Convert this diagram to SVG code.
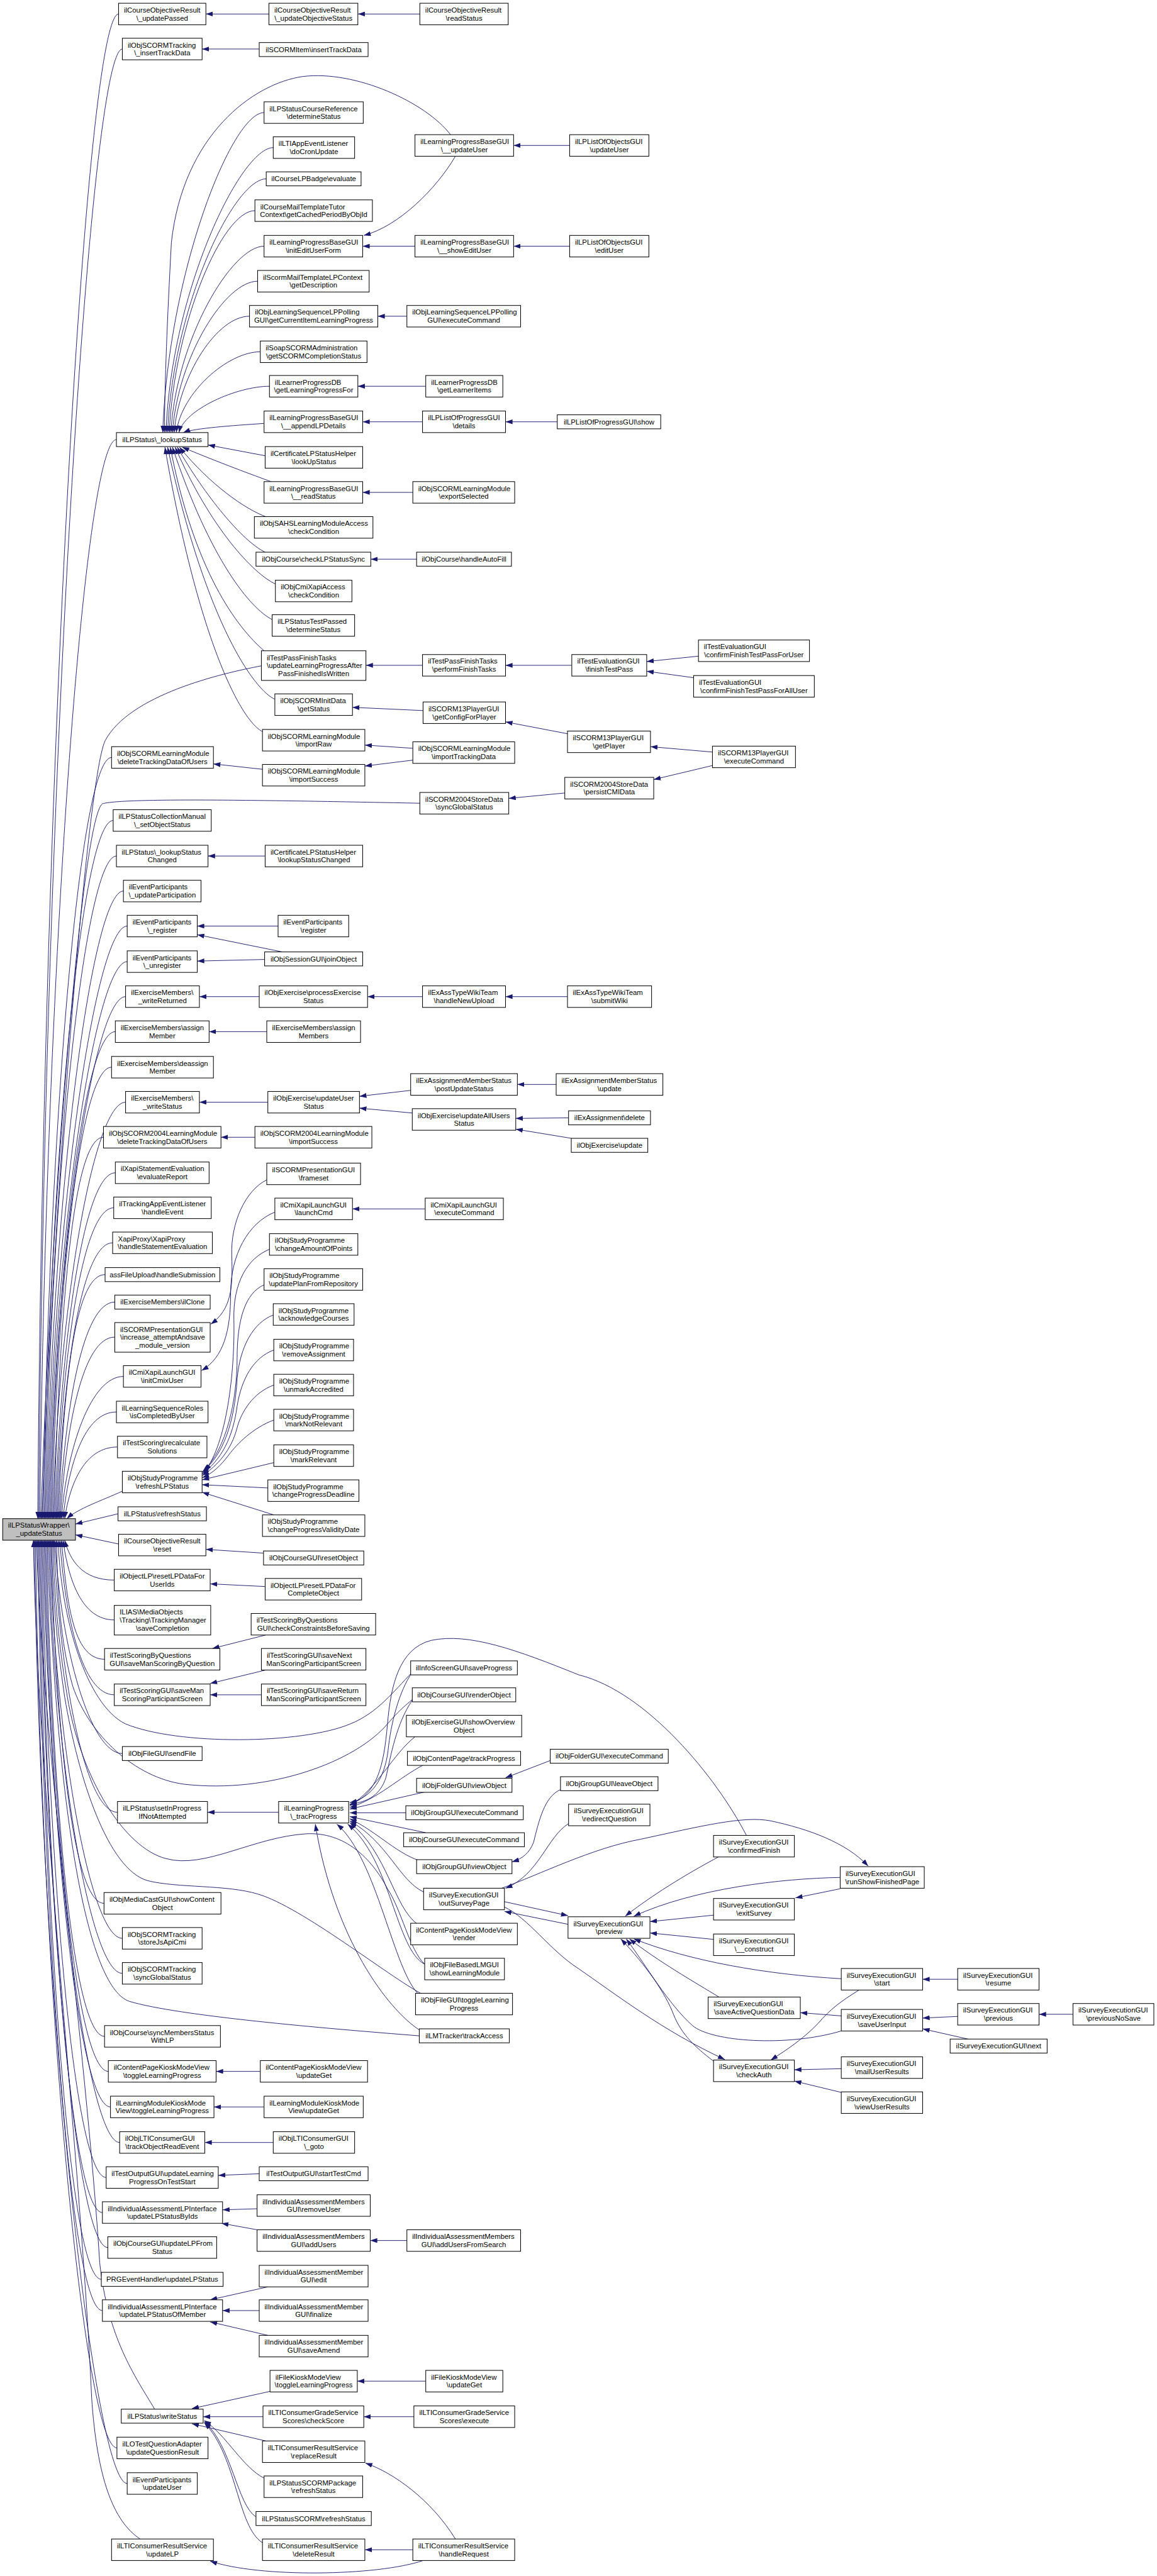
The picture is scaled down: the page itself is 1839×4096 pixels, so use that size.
<svg xmlns="http://www.w3.org/2000/svg" width="1839" height="4096" viewBox="0 0 1839 4096">
<style>
.n{fill:#fff;stroke:#000;stroke-width:1.2}
.m{fill:#bfbfbf;stroke:#000;stroke-width:1.2}
text{font-family:"Liberation Sans",Arial,Helvetica,sans-serif;font-size:13.3px;fill:#000}
.c{text-anchor:middle}
.e path{fill:none;stroke:#191970;stroke-width:1.1;marker-end:url(#a)}
</style>
<defs>
<marker id="a" markerUnits="userSpaceOnUse" markerWidth="13" markerHeight="9" refX="13" refY="4.5" orient="auto" viewBox="0 0 13 9"><path d="M0,0L13,4.5L0,9z" fill="#191970"/></marker>
</defs>
<rect width="1839" height="4096" fill="#fff"/>
<g transform="scale(0.8566)">
<g id="edges" class="e">
<path d="M220,26 C160,26 80,1422 70,2819"/>
<path d="M227,91 C167,91 82,1455 72,2819"/>
<path d="M216,816 C156,816 84,1818 74,2819"/>
<path d="M779,1491 C520,1486 230,1480 190,1492 C150,1520 92,2300 76,2819"/>
<path d="M485,1236 C410,1250 240,1290 195,1375 C160,1450 95,2300 78,2819"/>
<path d="M207,1406 C147,1406 90,2112 80,2819"/>
<path d="M210,1523 C150,1523 92,2171 82,2819"/>
<path d="M216,1589 C156,1589 94,2204 84,2819"/>
<path d="M229,1654 C169,1654 96,2236 86,2819"/>
<path d="M236,1719 C176,1719 98,2269 88,2819"/>
<path d="M236,1785 C176,1785 100,2302 90,2819"/>
<path d="M233,1850 C173,1850 102,2334 92,2819"/>
<path d="M214,1915 C154,1915 104,2367 94,2819"/>
<path d="M207,1981 C147,1981 106,2400 96,2819"/>
<path d="M233,2046 C173,2046 108,2432 98,2819"/>
<path d="M192,2111 C132,2111 110,2465 100,2819"/>
<path d="M214,2177 C154,2177 112,2498 102,2819"/>
<path d="M211,2242 C151,2242 114,2530 104,2819"/>
<path d="M209,2307 C149,2307 116,2563 106,2819"/>
<path d="M195,2366 C135,2366 118,2592 108,2819"/>
<path d="M213,2417 C153,2417 120,2618 110,2819"/>
<path d="M213,2482 C153,2482 122,2650 112,2819"/>
<path d="M229,2555 C169,2555 124,2687 114,2819"/>
<path d="M216,2621 C156,2621 127,2720 117,2819"/>
<path d="M218,2686 C158,2686 130,2752 120,2819"/>
<path d="M227,2768 C190,2785 145,2800 124,2819"/>
<path d="M219,2810 L140,2829"/>
<path d="M220,2866 L140,2849"/>
<path d="M212,2933 C152,2933 130,2896 120,2859"/>
<path d="M212,3007 C152,3007 127,2933 117,2859"/>
<path d="M194,3080 C134,3080 124,2970 114,2859"/>
<path d="M212,3146 C152,3146 121,3002 111,2859"/>
<path d="M765,3104 C730,3140 700,3180 650,3200 C560,3238 330,3240 233,3200 C160,3165 112,3000 108,2859"/>
<path d="M765,3155 C740,3175 728,3190 719,3200 C660,3270 500,3330 342,3312 C250,3300 165,3220 135,3130 C112,3050 106,2950 105,2859"/>
<path d="M227,3255 C167,3255 112,3057 102,2859"/>
<path d="M218,3364 C158,3364 110,3111 100,2859"/>
<path d="M788,3646 C760,3620 745,3545 719,3506 C690,3450 640,3400 568,3404 C470,3410 380,3470 308,3450 C230,3430 150,3300 125,3150 C108,3050 100,2950 98,2859"/>
<path d="M784,3702 C720,3668 560,3540 479,3516 C420,3498 330,3505 274,3491 C200,3470 145,3300 120,3150 C105,3050 97,2950 96,2859"/>
<path d="M193,3533 C133,3533 104,3196 94,2859"/>
<path d="M227,3598 C167,3598 102,3228 92,2859"/>
<path d="M227,3663 C167,3663 100,3261 90,2859"/>
<path d="M778,3779 C600,3765 330,3742 240,3715 C165,3690 120,3400 100,3100 C92,2980 88,2900 88,2859"/>
<path d="M194,3780 C134,3780 96,3320 86,2859"/>
<path d="M201,3845 C141,3845 94,3352 84,2859"/>
<path d="M205,3911 C145,3911 92,3385 82,2859"/>
<path d="M222,3977 C162,3977 90,3418 80,2859"/>
<path d="M197,4042 C137,4042 88,3450 78,2859"/>
<path d="M190,4107 C130,4107 86,3483 76,2859"/>
<path d="M200,4172 C140,4172 84,3516 74,2859"/>
<path d="M188,4231 C128,4231 82,3545 72,2859"/>
<path d="M190,4289 C130,4289 80,3574 70,2859"/>
<path d="M287,4472 C250,4410 200,4340 185,4200 C160,3800 75,3200 68,2859"/>
<path d="M217,4544 C157,4544 76,3701 66,2859"/>
<path d="M236,4610 C176,4610 74,3734 64,2859"/>
<path d="M260,4713 C210,4680 180,4600 170,4450 C150,4000 68,3300 62,2859"/>
<path d="M490,209 C430,209 312,506 302,803"/>
<path d="M836,250 C790,190 660,130 562,142 C470,155 340,250 318,450 C310,600 306,700 305,803"/>
<path d="M507,274 C447,274 318,538 308,803"/>
<path d="M494,332 C434,332 321,567 311,803"/>
<path d="M473,391 C413,391 324,597 314,803"/>
<path d="M490,457 C430,457 327,630 317,803"/>
<path d="M478,522 C418,522 330,662 320,803"/>
<path d="M463,587 C403,587 333,695 323,803"/>
<path d="M483,653 C423,653 337,728 327,803"/>
<path d="M500,717 C440,717 342,760 332,803"/>
<path d="M490,786 C430,790 360,795 340,803"/>
<path d="M492,846 L386,826"/>
<path d="M503,894 C470,882 410,860 338,830"/>
<path d="M493,959 C455,945 390,900 333,830"/>
<path d="M492,1025 C450,1005 380,920 329,830"/>
<path d="M511,1084 C470,1065 390,980 325,830"/>
<path d="M505,1150 C465,1130 390,1040 320,830"/>
<path d="M490,1208 C440,1165 360,1060 316,830"/>
<path d="M510,1298 C470,1280 380,1150 311,830"/>
<path d="M487,1358 C450,1340 370,1200 306,830"/>
<path d="M499,26 L382,26"/>
<path d="M779,26 L664,26"/>
<path d="M481,91 L375,91"/>
<path d="M1057,270 L953,270"/>
<path d="M1057,457 L953,457"/>
<path d="M770,457 L673,457"/>
<path d="M845,290 C810,350 740,420 675,437"/>
<path d="M755,587 L701,587"/>
<path d="M790,717 L664,717"/>
<path d="M784,783 L673,783"/>
<path d="M1034,783 L938,783"/>
<path d="M766,914 L673,914"/>
<path d="M773,1038 L688,1038"/>
<path d="M784,1235 L679,1235"/>
<path d="M1061,1235 L938,1235"/>
<path d="M1296,1218 L1200,1228"/>
<path d="M1287,1258 L1200,1246"/>
<path d="M785,1319 L654,1313"/>
<path d="M1053,1362 L938,1340"/>
<path d="M1322,1396 L1207,1386"/>
<path d="M1322,1421 L1213,1447"/>
<path d="M766,1389 L677,1383"/>
<path d="M766,1411 L677,1422"/>
<path d="M487,1428 L396,1418"/>
<path d="M1048,1472 L944,1482"/>
<path d="M492,1589 L386,1589"/>
<path d="M516,1719 L366,1719"/>
<path d="M524,1767 L366,1735"/>
<path d="M491,1781 L366,1784"/>
<path d="M481,1850 L370,1850"/>
<path d="M784,1850 L682,1850"/>
<path d="M1053,1850 L938,1850"/>
<path d="M495,1915 L388,1915"/>
<path d="M497,2046 L370,2046"/>
<path d="M762,2024 L667,2035"/>
<path d="M765,2066 L667,2057"/>
<path d="M1032,2013 L960,2013"/>
<path d="M1055,2075 L957,2076"/>
<path d="M1060,2113 L957,2096"/>
<path d="M473,2111 L410,2111"/>
<path d="M789,2244 L654,2244"/>
<path d="M495,2190 C455,2210 428,2270 430,2330 C432,2390 430,2430 391,2458"/>
<path d="M510,2250 C460,2270 428,2330 428,2400 C428,2470 415,2520 374,2544"/>
<path d="M500,2319 C460,2335 432,2380 434,2450 C436,2550 420,2680 380,2731"/>
<path d="M490,2385 C455,2400 440,2450 440,2520 C440,2600 420,2690 377,2731"/>
<path d="M507,2441 C470,2455 445,2500 440,2560 C435,2640 415,2700 375,2733"/>
<path d="M508,2506 C470,2520 448,2560 440,2610 C432,2670 410,2710 375,2736"/>
<path d="M508,2571 C470,2585 448,2620 440,2650 C430,2690 405,2720 375,2739"/>
<path d="M508,2636 C470,2650 440,2680 425,2700 C410,2720 395,2735 375,2743"/>
<path d="M508,2715 L375,2747"/>
<path d="M497,2762 L375,2756"/>
<path d="M508,2812 L375,2770"/>
<path d="M489,2883 L382,2876"/>
<path d="M492,2945 L390,2940"/>
<path d="M493,3035 L394,3060"/>
<path d="M493,3100 L390,3125"/>
<path d="M485,3146 L390,3146"/>
<path d="M517,3364 L385,3364"/>
<path d="M483,3845 L401,3845"/>
<path d="M490,3911 L397,3911"/>
<path d="M507,3977 L380,3977"/>
<path d="M481,4035 L405,4038"/>
<path d="M477,4100 L413,4102"/>
<path d="M477,4139 L411,4127"/>
<path d="M755,4159 L687,4159"/>
<path d="M497,4245 L390,4269"/>
<path d="M481,4289 L413,4289"/>
<path d="M497,4335 L390,4310"/>
<path d="M790,4420 L663,4420"/>
<path d="M768,4486 L675,4486"/>
<path d="M488,4486 L377,4486"/>
<path d="M501,4439 L356,4471"/>
<path d="M493,4531 L356,4499"/>
<path d="M490,4600 C450,4580 420,4520 379,4493"/>
<path d="M475,4672 C440,4650 430,4540 379,4495"/>
<path d="M487,4720 C440,4690 440,4560 379,4497"/>
<path d="M845,4713 C800,4640 730,4590 678,4572"/>
<path d="M766,4733 L677,4733"/>
<path d="M785,4753 C700,4782 480,4785 390,4754"/>
<path d="M765,3104 C740,3140 725,3200 720,3250 C714,3300 690,3338 649,3346"/>
<path d="M765,3156 C735,3200 725,3260 716,3300 C706,3330 685,3345 649,3349"/>
<path d="M770,3224 C730,3255 700,3320 649,3352"/>
<path d="M786,3276 C740,3300 700,3340 649,3355"/>
<path d="M790,3326 L649,3358"/>
<path d="M753,3365 L649,3365"/>
<path d="M790,3402 L649,3372"/>
<path d="M786,3456 C740,3445 700,3400 649,3376"/>
<path d="M786,3512 C740,3490 720,3420 649,3380"/>
<path d="M775,3572 C730,3540 720,3440 649,3383"/>
<path d="M788,3646 C735,3620 725,3450 645,3386"/>
<path d="M778,3703 C730,3660 700,3450 625,3386"/>
<path d="M778,3768 C720,3730 620,3600 585,3386"/>
<path d="M1385,3407 C1330,3300 1200,3140 1074,3109 C960,3063 870,3030 800,3045 C740,3060 725,3130 719,3200 C712,3280 700,3330 649,3350"/>
<path d="M1021,3268 L938,3300"/>
<path d="M1040,3322 C1010,3335 1000,3380 990,3420 C982,3440 970,3450 950,3456"/>
<path d="M1055,3385 C1015,3410 1000,3480 938,3505"/>
<path d="M936,3530 L1054,3556"/>
<path d="M1054,3572 L936,3548"/>
<path d="M931,3505 C1000,3480 1100,3430 1189,3414 C1300,3390 1380,3370 1430,3380 C1500,3395 1570,3420 1611,3464"/>
<path d="M936,3540 C980,3560 1020,3620 1073,3654 C1140,3700 1230,3770 1345,3823"/>
<path d="M1333,3447 C1290,3470 1220,3510 1160,3557"/>
<path d="M1559,3485 C1450,3487 1290,3505 1176,3557"/>
<path d="M1324,3555 L1206,3567"/>
<path d="M1324,3600 L1206,3588"/>
<path d="M1561,3673 C1420,3665 1280,3640 1176,3599"/>
<path d="M1334,3707 C1290,3680 1220,3640 1168,3599"/>
<path d="M1561,3770 C1460,3800 1320,3790 1285,3760 C1240,3720 1200,3650 1162,3599"/>
<path d="M1324,3826 C1290,3800 1265,3777 1250,3740 C1235,3700 1200,3650 1152,3599"/>
<path d="M1559,3506 L1476,3523"/>
<path d="M1561,3742 L1485,3736"/>
<path d="M1777,3743 L1712,3746"/>
<path d="M1796,3785 L1712,3766"/>
<path d="M1991,3739 L1928,3739"/>
<path d="M1777,3674 L1712,3674"/>
<path d="M1594,3694 C1560,3715 1540,3730 1518,3756 C1490,3785 1460,3805 1430,3824"/>
<path d="M1561,3840 L1474,3842"/>
<path d="M1561,3884 L1474,3863"/>
</g>
<g id="nodes">
<g id="updPassed" transform="translate(220,6)"><rect class="n" width="162" height="40"/><text x="10" y="17.2">ilCourseObjectiveResult</text><text class="c" x="81" y="32">\_updatePassed</text></g>
<g id="insertTrack" transform="translate(227,71)"><rect class="n" width="148" height="40"/><text x="10" y="17.2">ilObjSCORMTracking</text><text class="c" x="74" y="32">\_insertTrackData</text></g>
<g id="lookupStatus" transform="translate(216,803)"><rect class="n" width="170" height="26"/><text class="c" x="85" y="17.6">ilLPStatus\_lookupStatus</text></g>
<g id="delTrackSCORM" transform="translate(207,1386)"><rect class="n" width="189" height="40"/><text x="10" y="17.2">ilObjSCORMLearningModule</text><text class="c" x="94.5" y="32">\deleteTrackingDataOfUsers</text></g>
<g id="setObjStatus" transform="translate(210,1503)"><rect class="n" width="182" height="40"/><text x="10" y="17.2">ilLPStatusCollectionManual</text><text class="c" x="91" y="32">\_setObjectStatus</text></g>
<g id="lookupChanged" transform="translate(216,1569)"><rect class="n" width="170" height="40"/><text x="10" y="17.2">ilLPStatus\_lookupStatus</text><text class="c" x="85" y="32">Changed</text></g>
<g id="updPart" transform="translate(229,1634)"><rect class="n" width="144" height="40"/><text x="10" y="17.2">ilEventParticipants</text><text class="c" x="72" y="32">\_updateParticipation</text></g>
<g id="register_" transform="translate(236,1699)"><rect class="n" width="130" height="40"/><text x="10" y="17.2">ilEventParticipants</text><text class="c" x="65" y="32">\_register</text></g>
<g id="unregister_" transform="translate(236,1765)"><rect class="n" width="130" height="40"/><text x="10" y="17.2">ilEventParticipants</text><text class="c" x="65" y="32">\_unregister</text></g>
<g id="writeReturned" transform="translate(233,1830)"><rect class="n" width="137" height="40"/><text x="10" y="17.2">ilExerciseMembers\</text><text class="c" x="68.5" y="32">_writeReturned</text></g>
<g id="assignMember" transform="translate(214,1895)"><rect class="n" width="174" height="40"/><text x="10" y="17.2">ilExerciseMembers\assign</text><text class="c" x="87" y="32">Member</text></g>
<g id="deassignMember" transform="translate(207,1961)"><rect class="n" width="189" height="40"/><text x="10" y="17.2">ilExerciseMembers\deassign</text><text class="c" x="94.5" y="32">Member</text></g>
<g id="exWriteStatus" transform="translate(233,2026)"><rect class="n" width="137" height="40"/><text x="10" y="17.2">ilExerciseMembers\</text><text class="c" x="68.5" y="32">_writeStatus</text></g>
<g id="delTrack2004" transform="translate(192,2091)"><rect class="n" width="218" height="40"/><text x="10" y="17.2">ilObjSCORM2004LearningModule</text><text class="c" x="109" y="32">\deleteTrackingDataOfUsers</text></g>
<g id="evalReport" transform="translate(214,2157)"><rect class="n" width="174" height="40"/><text x="10" y="17.2">ilXapiStatementEvaluation</text><text class="c" x="87" y="32">\evaluateReport</text></g>
<g id="handleEvent" transform="translate(211,2222)"><rect class="n" width="181" height="40"/><text x="10" y="17.2">ilTrackingAppEventListener</text><text class="c" x="90.5" y="32">\handleEvent</text></g>
<g id="xapiProxy" transform="translate(209,2287)"><rect class="n" width="185" height="40"/><text x="10" y="17.2">XapiProxy\XapiProxy</text><text class="c" x="92.5" y="32">\handleStatementEvaluation</text></g>
<g id="handleSubmission" transform="translate(195,2353)"><rect class="n" width="213" height="26"/><text class="c" x="106.5" y="17.6">assFileUpload\handleSubmission</text></g>
<g id="ilClone" transform="translate(213,2404)"><rect class="n" width="177" height="26"/><text class="c" x="88.5" y="17.6">ilExerciseMembers\ilClone</text></g>
<g id="increaseAttempt" transform="translate(213,2455)"><rect class="n" width="177" height="55"/><text x="10" y="17.3">ilSCORMPresentationGUI</text><text x="10" y="32.1">\increase_attemptAndsave</text><text class="c" x="88.5" y="46.9">_module_version</text></g>
<g id="initCmixUser" transform="translate(229,2535)"><rect class="n" width="144" height="40"/><text x="10" y="17.2">ilCmiXapiLaunchGUI</text><text class="c" x="72" y="32">\initCmixUser</text></g>
<g id="isCompletedByUser" transform="translate(216,2601)"><rect class="n" width="170" height="40"/><text x="10" y="17.2">ilLearningSequenceRoles</text><text class="c" x="85" y="32">\isCompletedByUser</text></g>
<g id="recalculate" transform="translate(218,2666)"><rect class="n" width="166" height="40"/><text x="10" y="17.2">ilTestScoring\recalculate</text><text class="c" x="83" y="32">Solutions</text></g>
<g id="refreshLPStatus" transform="translate(227,2731)"><rect class="n" width="148" height="40"/><text x="10" y="17.2">ilObjStudyProgramme</text><text class="c" x="74" y="32">\refreshLPStatus</text></g>
<g id="refreshStatus" transform="translate(219,2797)"><rect class="n" width="164" height="26"/><text class="c" x="82" y="17.6">ilLPStatus\refreshStatus</text></g>
<g id="main" transform="translate(5,2819)"><rect class="m" width="135" height="40"/><text x="10" y="17.2">ilLPStatusWrapper\</text><text class="c" x="67.5" y="32">_updateStatus</text></g>
<g id="coReset" transform="translate(220,2848)"><rect class="n" width="162" height="40"/><text x="10" y="17.2">ilCourseObjectiveResult</text><text class="c" x="81" y="32">\reset</text></g>
<g id="resetUserIds" transform="translate(212,2913)"><rect class="n" width="178" height="40"/><text x="10" y="17.2">ilObjectLP\resetLPDataFor</text><text class="c" x="89" y="32">UserIds</text></g>
<g id="saveCompletion" transform="translate(212,2980)"><rect class="n" width="179" height="55"/><text x="10" y="17.3">ILIAS\MediaObjects</text><text x="10" y="32.1">\Tracking\TrackingManager</text><text class="c" x="89.5" y="46.9">\saveCompletion</text></g>
<g id="saveManByQuestion" transform="translate(194,3060)"><rect class="n" width="214" height="40"/><text x="10" y="17.2">ilTestScoringByQuestions</text><text class="c" x="107" y="32">GUI\saveManScoringByQuestion</text></g>
<g id="saveManScoring" transform="translate(212,3126)"><rect class="n" width="178" height="40"/><text x="10" y="17.2">ilTestScoringGUI\saveMan</text><text class="c" x="89" y="32">ScoringParticipantScreen</text></g>
<g id="sendFile" transform="translate(227,3242)"><rect class="n" width="148" height="26"/><text class="c" x="74" y="17.6">ilObjFileGUI\sendFile</text></g>
<g id="setInProgress" transform="translate(218,3344)"><rect class="n" width="167" height="40"/><text x="10" y="17.2">ilLPStatus\setInProgress</text><text class="c" x="83.5" y="32">IfNotAttempted</text></g>
<g id="mediaCast" transform="translate(193,3513)"><rect class="n" width="217" height="40"/><text x="10" y="17.2">ilObjMediaCastGUI\showContent</text><text class="c" x="108.5" y="32">Object</text></g>
<g id="storeJsApiCmi" transform="translate(227,3578)"><rect class="n" width="148" height="40"/><text x="10" y="17.2">ilObjSCORMTracking</text><text class="c" x="74" y="32">\storeJsApiCmi</text></g>
<g id="syncGlobalSCORM" transform="translate(227,3643)"><rect class="n" width="148" height="40"/><text x="10" y="17.2">ilObjSCORMTracking</text><text class="c" x="74" y="32">\syncGlobalStatus</text></g>
<g id="syncMembers" transform="translate(194,3760)"><rect class="n" width="215" height="40"/><text x="10" y="17.2">ilObjCourse\syncMembersStatus</text><text class="c" x="107.5" y="32">WithLP</text></g>
<g id="kioskToggle" transform="translate(201,3825)"><rect class="n" width="200" height="40"/><text x="10" y="17.2">ilContentPageKioskModeView</text><text class="c" x="100" y="32">\toggleLearningProgress</text></g>
<g id="lmKioskToggle" transform="translate(205,3891)"><rect class="n" width="192" height="40"/><text x="10" y="17.2">ilLearningModuleKioskMode</text><text class="c" x="96" y="32">View\toggleLearningProgress</text></g>
<g id="ltiTrackRead" transform="translate(222,3957)"><rect class="n" width="158" height="40"/><text x="10" y="17.2">ilObjLTIConsumerGUI</text><text class="c" x="79" y="32">\trackObjectReadEvent</text></g>
<g id="testStart" transform="translate(197,4022)"><rect class="n" width="208" height="40"/><text x="10" y="17.2">ilTestOutputGUI\updateLearning</text><text class="c" x="104" y="32">ProgressOnTestStart</text></g>
<g id="updByIds" transform="translate(190,4087)"><rect class="n" width="223" height="40"/><text x="10" y="17.2">ilIndividualAssessmentLPInterface</text><text class="c" x="111.5" y="32">\updateLPStatusByIds</text></g>
<g id="updFromStatus" transform="translate(200,4152)"><rect class="n" width="202" height="40"/><text x="10" y="17.2">ilObjCourseGUI\updateLPFrom</text><text class="c" x="101" y="32">Status</text></g>
<g id="prgUpdate" transform="translate(188,4218)"><rect class="n" width="226" height="26"/><text class="c" x="113" y="17.6">PRGEventHandler\updateLPStatus</text></g>
<g id="updOfMember" transform="translate(190,4269)"><rect class="n" width="223" height="40"/><text x="10" y="17.2">ilIndividualAssessmentLPInterface</text><text class="c" x="111.5" y="32">\updateLPStatusOfMember</text></g>
<g id="lpWriteStatus" transform="translate(225,4472)"><rect class="n" width="152" height="26"/><text class="c" x="76" y="17.6">ilLPStatus\writeStatus</text></g>
<g id="loTest" transform="translate(217,4524)"><rect class="n" width="169" height="40"/><text x="10" y="17.2">ilLOTestQuestionAdapter</text><text class="c" x="84.5" y="32">\updateQuestionResult</text></g>
<g id="evUpdateUser" transform="translate(236,4590)"><rect class="n" width="130" height="40"/><text x="10" y="17.2">ilEventParticipants</text><text class="c" x="65" y="32">\updateUser</text></g>
<g id="rsUpdateLP" transform="translate(207,4713)"><rect class="n" width="189" height="40"/><text x="10" y="17.2">ilLTIConsumerResultService</text><text class="c" x="94.5" y="32">\updateLP</text></g>

<g id="updObjStatus" transform="translate(499,6)"><rect class="n" width="165" height="40"/><text x="10" y="17.2">ilCourseObjectiveResult</text><text class="c" x="82.5" y="32">\_updateObjectiveStatus</text></g>
<g id="scormItemInsert" transform="translate(481,79)"><rect class="n" width="202" height="26"/><text class="c" x="101" y="17.6">ilSCORMItem\insertTrackData</text></g>
<g id="lpscr" transform="translate(490,189)"><rect class="n" width="184" height="40"/><text x="10" y="17.2">ilLPStatusCourseReference</text><text class="c" x="92" y="32">\determineStatus</text></g>
<g id="ltiCron" transform="translate(507,254)"><rect class="n" width="151" height="40"/><text x="10" y="17.2">ilLTIAppEventListener</text><text class="c" x="75.5" y="32">\doCronUpdate</text></g>
<g id="badge" transform="translate(494,319)"><rect class="n" width="176" height="26"/><text class="c" x="88" y="17.6">ilCourseLPBadge\evaluate</text></g>
<g id="mailTutor" transform="translate(473,371)"><rect class="n" width="218" height="40"/><text x="10" y="17.2">ilCourseMailTemplateTutor</text><text class="c" x="109" y="32">Context\getCachedPeriodByObjId</text></g>
<g id="initEdit" transform="translate(490,437)"><rect class="n" width="183" height="40"/><text x="10" y="17.2">ilLearningProgressBaseGUI</text><text class="c" x="91.5" y="32">\initEditUserForm</text></g>
<g id="scormMail" transform="translate(478,502)"><rect class="n" width="207" height="40"/><text x="10" y="17.2">ilScormMailTemplateLPContext</text><text class="c" x="103.5" y="32">\getDescription</text></g>
<g id="lsPoll" transform="translate(463,567)"><rect class="n" width="238" height="40"/><text x="10" y="17.2">ilObjLearningSequenceLPPolling</text><text class="c" x="119" y="32">GUI\getCurrentItemLearningProgress</text></g>
<g id="soap" transform="translate(483,633)"><rect class="n" width="198" height="40"/><text x="10" y="17.2">ilSoapSCORMAdministration</text><text class="c" x="99" y="32">\getSCORMCompletionStatus</text></g>
<g id="lpdb" transform="translate(500,697)"><rect class="n" width="164" height="40"/><text x="10" y="17.2">ilLearnerProgressDB</text><text class="c" x="82" y="32">\getLearningProgressFor</text></g>
<g id="appendLP" transform="translate(490,763)"><rect class="n" width="183" height="40"/><text x="10" y="17.2">ilLearningProgressBaseGUI</text><text class="c" x="91.5" y="32">\__appendLPDetails</text></g>
<g id="certLookUp" transform="translate(492,829)"><rect class="n" width="181" height="40"/><text x="10" y="17.2">ilCertificateLPStatusHelper</text><text class="c" x="90.5" y="32">\lookUpStatus</text></g>
<g id="readStatusGUI" transform="translate(490,894)"><rect class="n" width="183" height="40"/><text x="10" y="17.2">ilLearningProgressBaseGUI</text><text class="c" x="91.5" y="32">\__readStatus</text></g>
<g id="sahs" transform="translate(472,959)"><rect class="n" width="220" height="40"/><text x="10" y="17.2">ilObjSAHSLearningModuleAccess</text><text class="c" x="110" y="32">\checkCondition</text></g>
<g id="checkLPSync" transform="translate(475,1025)"><rect class="n" width="213" height="26"/><text class="c" x="106.5" y="17.6">ilObjCourse\checkLPStatusSync</text></g>
<g id="cmiCheck" transform="translate(511,1077)"><rect class="n" width="142" height="40"/><text x="10" y="17.2">ilObjCmiXapiAccess</text><text class="c" x="71" y="32">\checkCondition</text></g>
<g id="lpstp" transform="translate(505,1141)"><rect class="n" width="153" height="40"/><text x="10" y="17.2">ilLPStatusTestPassed</text><text class="c" x="76.5" y="32">\determineStatus</text></g>
<g id="tpft" transform="translate(485,1208)"><rect class="n" width="194" height="55"/><text x="10" y="17.3">ilTestPassFinishTasks</text><text x="10" y="32.1">\updateLearningProgressAfter</text><text class="c" x="97" y="46.9">PassFinishedIsWritten</text></g>
<g id="initData" transform="translate(510,1288)"><rect class="n" width="144" height="40"/><text x="10" y="17.2">ilObjSCORMInitData</text><text class="c" x="72" y="32">\getStatus</text></g>
<g id="importRaw" transform="translate(487,1354)"><rect class="n" width="190" height="40"/><text x="10" y="17.2">ilObjSCORMLearningModule</text><text class="c" x="95" y="32">\importRaw</text></g>
<g id="importSuccess" transform="translate(487,1419)"><rect class="n" width="190" height="40"/><text x="10" y="17.2">ilObjSCORMLearningModule</text><text class="c" x="95" y="32">\importSuccess</text></g>
<g id="certLookupChanged" transform="translate(492,1569)"><rect class="n" width="181" height="40"/><text x="10" y="17.2">ilCertificateLPStatusHelper</text><text class="c" x="90.5" y="32">\lookupStatusChanged</text></g>
<g id="register" transform="translate(516,1699)"><rect class="n" width="131" height="40"/><text x="10" y="17.2">ilEventParticipants</text><text class="c" x="65.5" y="32">\register</text></g>
<g id="joinObject" transform="translate(491,1767)"><rect class="n" width="182" height="26"/><text class="c" x="91" y="17.6">ilObjSessionGUI\joinObject</text></g>
<g id="processEx" transform="translate(481,1830)"><rect class="n" width="201" height="40"/><text x="10" y="17.2">ilObjExercise\processExercise</text><text class="c" x="100.5" y="32">Status</text></g>
<g id="assignMembers" transform="translate(495,1895)"><rect class="n" width="174" height="40"/><text x="10" y="17.2">ilExerciseMembers\assign</text><text class="c" x="87" y="32">Members</text></g>
<g id="updUserStatus" transform="translate(497,2026)"><rect class="n" width="170" height="40"/><text x="10" y="17.2">ilObjExercise\updateUser</text><text class="c" x="85" y="32">Status</text></g>
<g id="import2004" transform="translate(473,2091)"><rect class="n" width="217" height="40"/><text x="10" y="17.2">ilObjSCORM2004LearningModule</text><text class="c" x="108.5" y="32">\importSuccess</text></g>
<g id="frameset" transform="translate(495,2159)"><rect class="n" width="174" height="40"/><text x="10" y="17.2">ilSCORMPresentationGUI</text><text class="c" x="87" y="32">\frameset</text></g>
<g id="launchCmd" transform="translate(510,2224)"><rect class="n" width="144" height="40"/><text x="10" y="17.2">ilCmiXapiLaunchGUI</text><text class="c" x="72" y="32">\launchCmd</text></g>
<g id="changeAmount" transform="translate(500,2290)"><rect class="n" width="164" height="40"/><text x="10" y="17.2">ilObjStudyProgramme</text><text class="c" x="82" y="32">\changeAmountOfPoints</text></g>
<g id="updatePlan" transform="translate(490,2355)"><rect class="n" width="183" height="40"/><text x="10" y="17.2">ilObjStudyProgramme</text><text class="c" x="91.5" y="32">\updatePlanFromRepository</text></g>
<g id="ackCourses" transform="translate(507,2420)"><rect class="n" width="150" height="40"/><text x="10" y="17.2">ilObjStudyProgramme</text><text class="c" x="75" y="32">\acknowledgeCourses</text></g>
<g id="removeAssign" transform="translate(508,2486)"><rect class="n" width="148" height="40"/><text x="10" y="17.2">ilObjStudyProgramme</text><text class="c" x="74" y="32">\removeAssignment</text></g>
<g id="unmarkAcc" transform="translate(508,2551)"><rect class="n" width="148" height="40"/><text x="10" y="17.2">ilObjStudyProgramme</text><text class="c" x="74" y="32">\unmarkAccredited</text></g>
<g id="markNotRel" transform="translate(508,2616)"><rect class="n" width="148" height="40"/><text x="10" y="17.2">ilObjStudyProgramme</text><text class="c" x="74" y="32">\markNotRelevant</text></g>
<g id="markRel" transform="translate(508,2682)"><rect class="n" width="148" height="40"/><text x="10" y="17.2">ilObjStudyProgramme</text><text class="c" x="74" y="32">\markRelevant</text></g>
<g id="changeDeadline" transform="translate(497,2747)"><rect class="n" width="169" height="40"/><text x="10" y="17.2">ilObjStudyProgramme</text><text class="c" x="84.5" y="32">\changeProgressDeadline</text></g>
<g id="changeValidity" transform="translate(487,2812)"><rect class="n" width="190" height="40"/><text x="10" y="17.2">ilObjStudyProgramme</text><text class="c" x="95" y="32">\changeProgressValidityDate</text></g>
<g id="resetObject" transform="translate(489,2879)"><rect class="n" width="186" height="26"/><text class="c" x="93" y="17.6">ilObjCourseGUI\resetObject</text></g>
<g id="resetComplete" transform="translate(492,2930)"><rect class="n" width="179" height="40"/><text x="10" y="17.2">ilObjectLP\resetLPDataFor</text><text class="c" x="89.5" y="32">CompleteObject</text></g>
<g id="checkConstraints" transform="translate(466,2995)"><rect class="n" width="231" height="40"/><text x="10" y="17.2">ilTestScoringByQuestions</text><text class="c" x="115.5" y="32">GUI\checkConstraintsBeforeSaving</text></g>
<g id="saveNext" transform="translate(485,3060)"><rect class="n" width="194" height="40"/><text x="10" y="17.2">ilTestScoringGUI\saveNext</text><text class="c" x="97" y="32">ManScoringParticipantScreen</text></g>
<g id="saveReturn" transform="translate(485,3126)"><rect class="n" width="194" height="40"/><text x="10" y="17.2">ilTestScoringGUI\saveReturn</text><text class="c" x="97" y="32">ManScoringParticipantScreen</text></g>
<g id="tracProgress" transform="translate(517,3344)"><rect class="n" width="130" height="40"/><text x="10" y="17.2">ilLearningProgress</text><text class="c" x="65" y="32">\_tracProgress</text></g>
<g id="kioskUpdateGet" transform="translate(483,3825)"><rect class="n" width="199" height="40"/><text x="10" y="17.2">ilContentPageKioskModeView</text><text class="c" x="99.5" y="32">\updateGet</text></g>
<g id="lmKioskUpdateGet" transform="translate(490,3891)"><rect class="n" width="184" height="40"/><text x="10" y="17.2">ilLearningModuleKioskMode</text><text class="c" x="92" y="32">View\updateGet</text></g>
<g id="ltiGoto" transform="translate(507,3957)"><rect class="n" width="151" height="40"/><text x="10" y="17.2">ilObjLTIConsumerGUI</text><text class="c" x="75.5" y="32">\_goto</text></g>
<g id="startTestCmd" transform="translate(481,4022)"><rect class="n" width="202" height="26"/><text class="c" x="101" y="17.6">ilTestOutputGUI\startTestCmd</text></g>
<g id="removeUser" transform="translate(477,4074)"><rect class="n" width="210" height="40"/><text x="10" y="17.2">ilIndividualAssessmentMembers</text><text class="c" x="105" y="32">GUI\removeUser</text></g>
<g id="addUsers" transform="translate(477,4139)"><rect class="n" width="210" height="40"/><text x="10" y="17.2">ilIndividualAssessmentMembers</text><text class="c" x="105" y="32">GUI\addUsers</text></g>
<g id="iaEdit" transform="translate(481,4205)"><rect class="n" width="202" height="40"/><text x="10" y="17.2">ilIndividualAssessmentMember</text><text class="c" x="101" y="32">GUI\edit</text></g>
<g id="iaFinalize" transform="translate(481,4269)"><rect class="n" width="202" height="40"/><text x="10" y="17.2">ilIndividualAssessmentMember</text><text class="c" x="101" y="32">GUI\finalize</text></g>
<g id="iaSaveAmend" transform="translate(481,4335)"><rect class="n" width="202" height="40"/><text x="10" y="17.2">ilIndividualAssessmentMember</text><text class="c" x="101" y="32">GUI\saveAmend</text></g>
<g id="fileKioskToggle" transform="translate(501,4400)"><rect class="n" width="162" height="40"/><text x="10" y="17.2">ilFileKioskModeView</text><text class="c" x="81" y="32">\toggleLearningProgress</text></g>
<g id="gsCheck" transform="translate(488,4466)"><rect class="n" width="187" height="40"/><text x="10" y="17.2">ilLTIConsumerGradeService</text><text class="c" x="93.5" y="32">Scores\checkScore</text></g>
<g id="replaceResult" transform="translate(487,4531)"><rect class="n" width="190" height="40"/><text x="10" y="17.2">ilLTIConsumerResultService</text><text class="c" x="95" y="32">\replaceResult</text></g>
<g id="scormPkgRefresh" transform="translate(490,4596)"><rect class="n" width="183" height="40"/><text x="10" y="17.2">ilLPStatusSCORMPackage</text><text class="c" x="91.5" y="32">\refreshStatus</text></g>
<g id="scormRefresh" transform="translate(475,4662)"><rect class="n" width="214" height="26"/><text class="c" x="107" y="17.6">ilLPStatusSCORM\refreshStatus</text></g>
<g id="rsDelete" transform="translate(487,4713)"><rect class="n" width="190" height="40"/><text x="10" y="17.2">ilLTIConsumerResultService</text><text class="c" x="95" y="32">\deleteResult</text></g>

<g id="readStatus" transform="translate(779,6)"><rect class="n" width="164" height="40"/><text x="10" y="17.2">ilCourseObjectiveResult</text><text class="c" x="82" y="32">\readStatus</text></g>
<g id="updateUser" transform="translate(770,250)"><rect class="n" width="183" height="40"/><text x="10" y="17.2">ilLearningProgressBaseGUI</text><text class="c" x="91.5" y="32">\__updateUser</text></g>
<g id="showEdit" transform="translate(770,437)"><rect class="n" width="183" height="40"/><text x="10" y="17.2">ilLearningProgressBaseGUI</text><text class="c" x="91.5" y="32">\__showEditUser</text></g>
<g id="lsPollExec" transform="translate(755,567)"><rect class="n" width="211" height="40"/><text x="10" y="17.2">ilObjLearningSequenceLPPolling</text><text class="c" x="105.5" y="32">GUI\executeCommand</text></g>
<g id="lpdbItems" transform="translate(790,697)"><rect class="n" width="143" height="40"/><text x="10" y="17.2">ilLearnerProgressDB</text><text class="c" x="71.5" y="32">\getLearnerItems</text></g>
<g id="lplistDetails" transform="translate(784,763)"><rect class="n" width="154" height="40"/><text x="10" y="17.2">ilLPListOfProgressGUI</text><text class="c" x="77" y="32">\details</text></g>
<g id="exportSelected" transform="translate(766,894)"><rect class="n" width="189" height="40"/><text x="10" y="17.2">ilObjSCORMLearningModule</text><text class="c" x="94.5" y="32">\exportSelected</text></g>
<g id="handleAutoFill" transform="translate(773,1025)"><rect class="n" width="176" height="26"/><text class="c" x="88" y="17.6">ilObjCourse\handleAutoFill</text></g>
<g id="performFinish" transform="translate(784,1215)"><rect class="n" width="154" height="40"/><text x="10" y="17.2">ilTestPassFinishTasks</text><text class="c" x="77" y="32">\performFinishTasks</text></g>
<g id="getConfig" transform="translate(785,1303)"><rect class="n" width="153" height="40"/><text x="10" y="17.2">ilSCORM13PlayerGUI</text><text class="c" x="76.5" y="32">\getConfigForPlayer</text></g>
<g id="importTracking" transform="translate(766,1377)"><rect class="n" width="189" height="40"/><text x="10" y="17.2">ilObjSCORMLearningModule</text><text class="c" x="94.5" y="32">\importTrackingData</text></g>
<g id="syncGlobal2004" transform="translate(779,1471)"><rect class="n" width="165" height="40"/><text x="10" y="17.2">ilSCORM2004StoreData</text><text class="c" x="82.5" y="32">\syncGlobalStatus</text></g>
<g id="handleNewUpload" transform="translate(784,1830)"><rect class="n" width="154" height="40"/><text x="10" y="17.2">ilExAssTypeWikiTeam</text><text class="c" x="77" y="32">\handleNewUpload</text></g>
<g id="postUpdate" transform="translate(762,1993)"><rect class="n" width="198" height="40"/><text x="10" y="17.2">ilExAssignmentMemberStatus</text><text class="c" x="99" y="32">\postUpdateStatus</text></g>
<g id="updAllUsers" transform="translate(765,2058)"><rect class="n" width="192" height="40"/><text x="10" y="17.2">ilObjExercise\updateAllUsers</text><text class="c" x="96" y="32">Status</text></g>
<g id="cmiExec" transform="translate(789,2224)"><rect class="n" width="145" height="40"/><text x="10" y="17.2">ilCmiXapiLaunchGUI</text><text class="c" x="72.5" y="32">\executeCommand</text></g>
<g id="infoSave" transform="translate(762,3083)"><rect class="n" width="198" height="26"/><text class="c" x="99" y="17.6">ilInfoScreenGUI\saveProgress</text></g>
<g id="courseRender" transform="translate(765,3133)"><rect class="n" width="192" height="26"/><text class="c" x="96" y="17.6">ilObjCourseGUI\renderObject</text></g>
<g id="showOverview" transform="translate(754,3184)"><rect class="n" width="214" height="40"/><text x="10" y="17.2">ilObjExerciseGUI\showOverview</text><text class="c" x="107" y="32">Object</text></g>
<g id="contentTrack" transform="translate(756,3251)"><rect class="n" width="210" height="26"/><text class="c" x="105" y="17.6">ilObjContentPage\trackProgress</text></g>
<g id="folderView" transform="translate(773,3301)"><rect class="n" width="177" height="26"/><text class="c" x="88.5" y="17.6">ilObjFolderGUI\viewObject</text></g>
<g id="groupExec" transform="translate(753,3352)"><rect class="n" width="218" height="26"/><text class="c" x="109" y="17.6">ilObjGroupGUI\executeCommand</text></g>
<g id="courseExec" transform="translate(749,3402)"><rect class="n" width="224" height="26"/><text class="c" x="112" y="17.6">ilObjCourseGUI\executeCommand</text></g>
<g id="groupView" transform="translate(773,3452)"><rect class="n" width="177" height="26"/><text class="c" x="88.5" y="17.6">ilObjGroupGUI\viewObject</text></g>
<g id="outSurvey" transform="translate(786,3505)"><rect class="n" width="150" height="40"/><text x="10" y="17.2">ilSurveyExecutionGUI</text><text class="c" x="75" y="32">\outSurveyPage</text></g>
<g id="kioskRender" transform="translate(762,3570)"><rect class="n" width="198" height="40"/><text x="10" y="17.2">ilContentPageKioskModeView</text><text class="c" x="99" y="32">\render</text></g>
<g id="fileBased" transform="translate(788,3635)"><rect class="n" width="148" height="40"/><text x="10" y="17.2">ilObjFileBasedLMGUI</text><text class="c" x="74" y="32">\showLearningModule</text></g>
<g id="fileToggle" transform="translate(771,3700)"><rect class="n" width="180" height="40"/><text x="10" y="17.2">ilObjFileGUI\toggleLearning</text><text class="c" x="90" y="32">Progress</text></g>
<g id="lmTracker" transform="translate(778,3766)"><rect class="n" width="167" height="26"/><text class="c" x="83.5" y="17.6">ilLMTracker\trackAccess</text></g>
<g id="addUsersSearch" transform="translate(755,4139)"><rect class="n" width="211" height="40"/><text x="10" y="17.2">ilIndividualAssessmentMembers</text><text class="c" x="105.5" y="32">GUI\addUsersFromSearch</text></g>
<g id="fileKioskUpdateGet" transform="translate(790,4400)"><rect class="n" width="143" height="40"/><text x="10" y="17.2">ilFileKioskModeView</text><text class="c" x="71.5" y="32">\updateGet</text></g>
<g id="gsExecute" transform="translate(768,4466)"><rect class="n" width="187" height="40"/><text x="10" y="17.2">ilLTIConsumerGradeService</text><text class="c" x="93.5" y="32">Scores\execute</text></g>
<g id="rsHandle" transform="translate(766,4713)"><rect class="n" width="189" height="40"/><text x="10" y="17.2">ilLTIConsumerResultService</text><text class="c" x="94.5" y="32">\handleRequest</text></g>

<g id="lploUpdateUser" transform="translate(1057,250)"><rect class="n" width="147" height="40"/><text x="10" y="17.2">ilLPListOfObjectsGUI</text><text class="c" x="73.5" y="32">\updateUser</text></g>
<g id="lploEditUser" transform="translate(1057,437)"><rect class="n" width="147" height="40"/><text x="10" y="17.2">ilLPListOfObjectsGUI</text><text class="c" x="73.5" y="32">\editUser</text></g>
<g id="lplistShow" transform="translate(1034,770)"><rect class="n" width="192" height="26"/><text class="c" x="96" y="17.6">ilLPListOfProgressGUI\show</text></g>
<g id="finishTestPass" transform="translate(1061,1215)"><rect class="n" width="139" height="40"/><text x="10" y="17.2">ilTestEvaluationGUI</text><text class="c" x="69.5" y="32">\finishTestPass</text></g>
<g id="getPlayer" transform="translate(1053,1357)"><rect class="n" width="154" height="40"/><text x="10" y="17.2">ilSCORM13PlayerGUI</text><text class="c" x="77" y="32">\getPlayer</text></g>
<g id="persistCMI" transform="translate(1048,1443)"><rect class="n" width="165" height="40"/><text x="10" y="17.2">ilSCORM2004StoreData</text><text class="c" x="82.5" y="32">\persistCMIData</text></g>
<g id="submitWiki" transform="translate(1053,1830)"><rect class="n" width="156" height="40"/><text x="10" y="17.2">ilExAssTypeWikiTeam</text><text class="c" x="78" y="32">\submitWiki</text></g>
<g id="exAmsUpdate" transform="translate(1032,1993)"><rect class="n" width="198" height="40"/><text x="10" y="17.2">ilExAssignmentMemberStatus</text><text class="c" x="99" y="32">\update</text></g>
<g id="exAssDelete" transform="translate(1055,2062)"><rect class="n" width="152" height="26"/><text class="c" x="76" y="17.6">ilExAssignment\delete</text></g>
<g id="objExUpdate" transform="translate(1060,2113)"><rect class="n" width="142" height="26"/><text class="c" x="71" y="17.6">ilObjExercise\update</text></g>
<g id="folderExec" transform="translate(1021,3247)"><rect class="n" width="219" height="26"/><text class="c" x="109.5" y="17.6">ilObjFolderGUI\executeCommand</text></g>
<g id="groupLeave" transform="translate(1040,3298)"><rect class="n" width="181" height="26"/><text class="c" x="90.5" y="17.6">ilObjGroupGUI\leaveObject</text></g>
<g id="redirect" transform="translate(1055,3349)"><rect class="n" width="151" height="40"/><text x="10" y="17.2">ilSurveyExecutionGUI</text><text class="c" x="75.5" y="32">\redirectQuestion</text></g>
<g id="preview" transform="translate(1054,3558)"><rect class="n" width="152" height="40"/><text x="10" y="17.2">ilSurveyExecutionGUI</text><text class="c" x="76" y="32">\preview</text></g>

<g id="confirmUser" transform="translate(1296,1188)"><rect class="n" width="206" height="40"/><text x="10" y="17.2">ilTestEvaluationGUI</text><text class="c" x="103" y="32">\confirmFinishTestPassForUser</text></g>
<g id="confirmAll" transform="translate(1287,1254)"><rect class="n" width="224" height="40"/><text x="10" y="17.2">ilTestEvaluationGUI</text><text class="c" x="112" y="32">\confirmFinishTestPassForAllUser</text></g>
<g id="s13Exec" transform="translate(1322,1385)"><rect class="n" width="154" height="40"/><text x="10" y="17.2">ilSCORM13PlayerGUI</text><text class="c" x="77" y="32">\executeCommand</text></g>
<g id="confirmedFinish" transform="translate(1324,3407)"><rect class="n" width="150" height="40"/><text x="10" y="17.2">ilSurveyExecutionGUI</text><text class="c" x="75" y="32">\confirmedFinish</text></g>
<g id="exitSurvey" transform="translate(1324,3524)"><rect class="n" width="150" height="40"/><text x="10" y="17.2">ilSurveyExecutionGUI</text><text class="c" x="75" y="32">\exitSurvey</text></g>
<g id="construct" transform="translate(1324,3590)"><rect class="n" width="150" height="40"/><text x="10" y="17.2">ilSurveyExecutionGUI</text><text class="c" x="75" y="32">\__construct</text></g>
<g id="saveActive" transform="translate(1314,3707)"><rect class="n" width="171" height="40"/><text x="10" y="17.2">ilSurveyExecutionGUI</text><text class="c" x="85.5" y="32">\saveActiveQuestionData</text></g>
<g id="checkAuth" transform="translate(1324,3824)"><rect class="n" width="150" height="40"/><text x="10" y="17.2">ilSurveyExecutionGUI</text><text class="c" x="75" y="32">\checkAuth</text></g>

<g id="runShow" transform="translate(1559,3465)"><rect class="n" width="156" height="40"/><text x="10" y="17.2">ilSurveyExecutionGUI</text><text class="c" x="78" y="32">\runShowFinishedPage</text></g>
<g id="start" transform="translate(1561,3654)"><rect class="n" width="151" height="40"/><text x="10" y="17.2">ilSurveyExecutionGUI</text><text class="c" x="75.5" y="32">\start</text></g>
<g id="saveUserInput" transform="translate(1561,3730)"><rect class="n" width="151" height="40"/><text x="10" y="17.2">ilSurveyExecutionGUI</text><text class="c" x="75.5" y="32">\saveUserInput</text></g>
<g id="mailResults" transform="translate(1561,3818)"><rect class="n" width="151" height="40"/><text x="10" y="17.2">ilSurveyExecutionGUI</text><text class="c" x="75.5" y="32">\mailUserResults</text></g>
<g id="viewResults" transform="translate(1561,3883)"><rect class="n" width="151" height="40"/><text x="10" y="17.2">ilSurveyExecutionGUI</text><text class="c" x="75.5" y="32">\viewUserResults</text></g>
<g id="resume" transform="translate(1777,3654)"><rect class="n" width="151" height="40"/><text x="10" y="17.2">ilSurveyExecutionGUI</text><text class="c" x="75.5" y="32">\resume</text></g>
<g id="previous" transform="translate(1777,3719)"><rect class="n" width="151" height="40"/><text x="10" y="17.2">ilSurveyExecutionGUI</text><text class="c" x="75.5" y="32">\previous</text></g>
<g id="next" transform="translate(1763,3785)"><rect class="n" width="180" height="26"/><text class="c" x="90" y="17.6">ilSurveyExecutionGUI\next</text></g>
<g id="previousNoSave" transform="translate(1991,3719)"><rect class="n" width="150" height="40"/><text x="10" y="17.2">ilSurveyExecutionGUI</text><text class="c" x="75" y="32">\previousNoSave</text></g>
</g>
</g>
</svg>
